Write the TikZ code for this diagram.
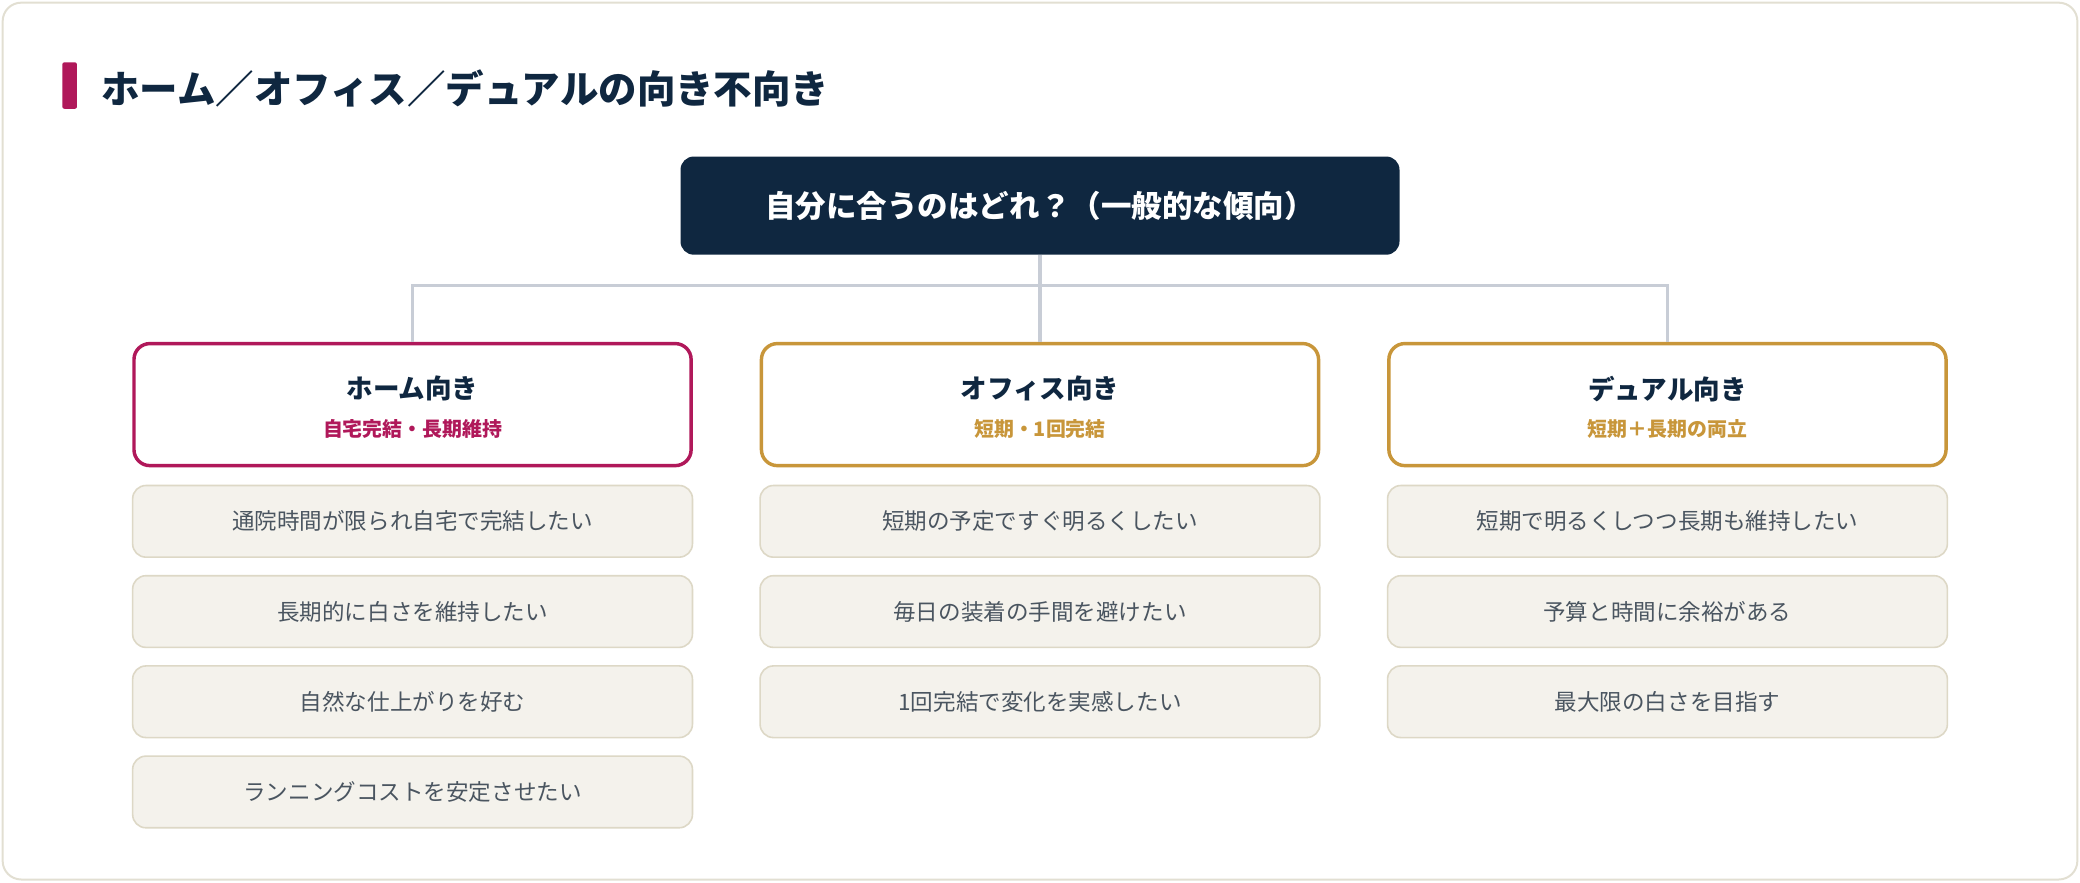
\documentclass[tikz,border=0pt]{standalone}
\usepackage{fontspec}
\setmainfont{Noto Sans CJK JP}
\usepackage{tikz}
\definecolor{navy}{HTML}{0F2740}
\definecolor{rose}{HTML}{B0185A}
\definecolor{gold}{HTML}{C8963A}
\definecolor{linegray}{HTML}{C8CDD6}
\definecolor{itemfill}{HTML}{F4F2EC}
\definecolor{itemdraw}{HTML}{DDD8C6}
\definecolor{itemtext}{HTML}{4A5560}
\definecolor{framecol}{HTML}{E2DFD2}
\tikzset{
  cat/.style={draw, line width=2.6pt, fill=white, rounded corners=12pt, minimum width=420pt, minimum height=92pt},
  item/.style={draw=itemdraw, line width=1.2pt, fill=itemfill, rounded corners=10pt, minimum width=422pt, minimum height=54pt, text=itemtext, font=\fontsize{17}{20}\selectfont},
  conn/.style={draw=linegray, line width=2.4pt}
}
\begin{document}
\begin{tikzpicture}[x=1pt, y=-1pt]
\useasboundingbox (0,0) rectangle (1568,665);
\draw[framecol, line width=1.5pt, fill=white, rounded corners=14pt] (2,2) rectangle (1566,663);
% title
\fill[rose, rounded corners=1.5pt] (47,47) rectangle (58,82);
\node (title) [anchor=west, text=navy, font=\fontsize{29}{34}\selectfont\bfseries] at (73,67) {ホーム／オフィス／デュアルの向き不向き};
% root
\node (root) [fill=navy, rounded corners=10pt, minimum width=542pt, minimum height=74pt, text=white, font=\fontsize{23}{28}\selectfont\bfseries] at (784,155) {自分に合うのはどれ？（一般的な傾向）};
% categories
\node (home) [cat, draw=rose] at (311,305) {};
\node (office) [cat, draw=gold] at (784,305) {};
\node (dual) [cat, draw=gold] at (1257,305) {};
\coordinate (hub) at (784,215);
\draw[conn] (root.south) -- (hub);
\draw[conn] (home.north) |- (hub) -| (dual.north);
\draw[conn] (hub) -- (office.north);
\node (homeT) [text=navy, font=\fontsize{20}{24}\selectfont\bfseries] at (311,293) {ホーム向き};
\node (homeS) [text=rose, font=\fontsize{15}{18}\selectfont\bfseries] at (311,323) {自宅完結・長期維持};
\node (officeT) [text=navy, font=\fontsize{20}{24}\selectfont\bfseries] at (784,293) {オフィス向き};
\node (officeS) [text=gold, font=\fontsize{15}{18}\selectfont\bfseries] at (784,323) {短期・1回完結};
\node (dualT) [text=navy, font=\fontsize{20}{24}\selectfont\bfseries] at (1257,293) {デュアル向き};
\node (dualS) [text=gold, font=\fontsize{15}{18}\selectfont\bfseries] at (1257,323) {短期＋長期の両立};
% items
\foreach \t [count=\i] in {通院時間が限られ自宅で完結したい, 長期的に白さを維持したい, 自然な仕上がりを好む, ランニングコストを安定させたい}
  \node (home\i) [item] at (311,325+68*\i) {\t};
\foreach \t [count=\i] in {短期の予定ですぐ明るくしたい, 毎日の装着の手間を避けたい, 1回完結で変化を実感したい}
  \node (office\i) [item] at (784,325+68*\i) {\t};
\foreach \t [count=\i] in {短期で明るくしつつ長期も維持したい, 予算と時間に余裕がある, 最大限の白さを目指す}
  \node (dual\i) [item] at (1257,325+68*\i) {\t};
\end{tikzpicture}
\end{document}
